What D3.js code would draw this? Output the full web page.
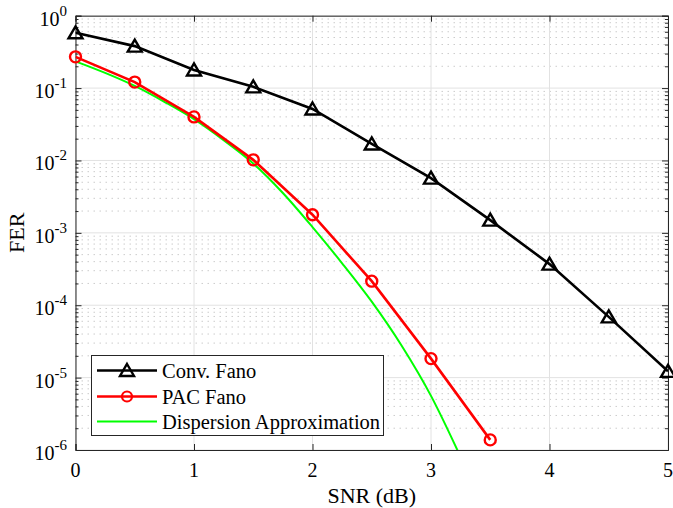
<!DOCTYPE html>
<html>
<head>
<meta charset="utf-8">
<script src="https://cdn.jsdelivr.net/npm/d3@7"></script>
<style>
  html, body { margin: 0; padding: 0; background: #fff; }
  svg { display: block; }
  text { font-family: "Liberation Serif", "Times New Roman", serif; fill: #000; }
</style>
</head>
<body>
<svg id="chart" width="673" height="508"></svg>
<script>
// ---------- data ----------
const snrConv = [0, 0.5, 1, 1.5, 2, 2.5, 3, 3.5, 4, 4.5, 5];
const ferConv = [0.58, 0.38, 0.178, 0.104, 0.0514, 0.0169, 0.0057, 0.00150, 3.7e-4, 6.9e-5, 1.22e-5];

const snrPac = [0, 0.5, 1, 1.5, 2, 2.5, 3, 3.5];
const ferPac = [0.27, 0.121, 0.040, 0.0102, 0.00178, 2.15e-4, 1.83e-5, 1.38e-6];

const snrDisp = [0, 0.25, 0.5, 0.75, 1, 1.25, 1.5, 1.75, 2, 2.25, 2.5, 2.75, 3, 3.25];
const ferDisp = [0.234, 0.162, 0.107, 0.0646, 0.0372, 0.0191, 0.0091, 0.00355, 0.0012, 3.8e-4, 1.12e-4, 2.8e-5, 5.6e-6, 8.0e-7];

const xTicks = [0, 1, 2, 3, 4, 5];
const yExponents = [0, -1, -2, -3, -4, -5, -6];
const legendLabels = ["Conv. Fano", "PAC Fano", "Dispersion Approximation"];

// ---------- layout ----------
const svg = d3.select("#chart");
const L = 75.5, R = 668, T = 15.7, B = 450;
const x = d3.scaleLinear().domain([0, 5]).range([L, R]);
const y = d3.scaleLog().domain([1e-6, 1]).range([B, T]);

const axisColor = "#262626";

// clip
svg.append("defs").append("clipPath").attr("id", "clip")
  .append("rect").attr("x", L).attr("y", T).attr("width", R - L).attr("height", B - T);

// minor grid (y)
const minorVals = [];
yExponents.slice(0, -1).forEach(e => {
  for (let m = 2; m <= 9; m++) minorVals.push(m * Math.pow(10, e - 1));
});
const grid = svg.append("g");
grid.selectAll("line.minor").data(minorVals).join("line")
  .attr("class", "minor")
  .attr("x1", L).attr("x2", R)
  .attr("y1", d => y(d)).attr("y2", d => y(d))
  .attr("stroke", "#cccccc").attr("stroke-width", 1)
  .attr("stroke-dasharray", "1.5,4.5");

// major grid
grid.selectAll("line.hmaj").data(yExponents.map(e => Math.pow(10, e))).join("line")
  .attr("class", "hmaj")
  .attr("x1", L).attr("x2", R)
  .attr("y1", d => y(d)).attr("y2", d => y(d))
  .attr("stroke", "#e2e2e2").attr("stroke-width", 1);
grid.selectAll("line.vmaj").data(xTicks).join("line")
  .attr("class", "vmaj")
  .attr("y1", T).attr("y2", B)
  .attr("x1", d => x(d)).attr("x2", d => x(d))
  .attr("stroke", "#e2e2e2").attr("stroke-width", 1);

// axes via d3 axis (ticks inward)
const yMajorVals = yExponents.map(e => Math.pow(10, e));
const axB = svg.append("g").attr("transform", `translate(0,${B})`)
  .call(d3.axisBottom(x).tickValues(xTicks).tickSize(-6).tickFormat(""));
const axT = svg.append("g").attr("transform", `translate(0,${T})`)
  .call(d3.axisTop(x).tickValues(xTicks).tickSize(-6).tickFormat(""));
const axL = svg.append("g").attr("transform", `translate(${L},0)`)
  .call(d3.axisLeft(y).tickValues(yMajorVals).tickSize(-6).tickFormat(""));
const axR = svg.append("g").attr("transform", `translate(${R},0)`)
  .call(d3.axisRight(y).tickValues(yMajorVals).tickSize(-6).tickFormat(""));
const axLm = svg.append("g").attr("transform", `translate(${L},0)`)
  .call(d3.axisLeft(y).tickValues(minorVals).tickSize(-3).tickFormat(""));
const axRm = svg.append("g").attr("transform", `translate(${R},0)`)
  .call(d3.axisRight(y).tickValues(minorVals).tickSize(-3).tickFormat(""));
[axB, axT, axL, axR, axLm, axRm].forEach(g => {
  g.selectAll("path").attr("stroke", axisColor).attr("stroke-width", 1);
  g.selectAll("line").attr("stroke", axisColor).attr("stroke-width", 1);
});
axLm.select("path").remove();
axRm.select("path").remove();

// x tick labels
svg.append("g").selectAll("text").data(xTicks).join("text")
  .attr("x", d => x(d)).attr("y", B + 27)
  .attr("text-anchor", "middle").attr("font-size", 20)
  .text(d => d);

// y tick labels 10^e
const yl = svg.append("g");
yExponents.forEach(e => {
  const t = yl.append("text")
    .attr("x", 67).attr("y", y(Math.pow(10, e)) + 10)
    .attr("text-anchor", "end").attr("font-size", 20);
  t.append("tspan").text("10");
  t.append("tspan").attr("font-size", 15).attr("dy", -10).text(String(e));
});

// axis labels
svg.append("text").attr("x", (L + R) / 2).attr("y", 503)
  .attr("text-anchor", "middle").attr("font-size", 22).text("SNR (dB)");
svg.append("text").attr("transform", `translate(24,${(T + B) / 2}) rotate(-90)`)
  .attr("text-anchor", "middle").attr("font-size", 22).text("FER");

// series
const plot = svg.append("g").attr("clip-path", "url(#clip)");
const line = d3.line().x(d => x(d[0])).y(d => y(d[1]));
const dispData = d3.zip(snrDisp, ferDisp);
const convData = d3.zip(snrConv, ferConv);
const pacData = d3.zip(snrPac, ferPac);

plot.append("path").datum(dispData)
  .attr("d", d3.line().x(d => x(d[0])).y(d => y(d[1])).curve(d3.curveMonotoneX))
  .attr("fill", "none").attr("stroke", "#00ff00").attr("stroke-width", 2);

plot.append("path").datum(pacData).attr("d", line)
  .attr("fill", "none").attr("stroke", "#ff0000").attr("stroke-width", 2.6);
plot.append("path").datum(convData).attr("d", line)
  .attr("fill", "none").attr("stroke", "#000").attr("stroke-width", 2.6);

const markers = svg.append("g");
markers.selectAll("path.tri").data(convData).join("path")
  .attr("class", "tri")
  .attr("transform", d => `translate(${x(d[0])},${y(d[1])})`)
  .attr("d", "M0,-6.5 L7,5.5 L-7,5.5 Z")
  .attr("fill", "none").attr("stroke", "#000").attr("stroke-width", 2.4)
  .attr("stroke-linejoin", "miter");
markers.selectAll("circle").data(pacData).join("circle")
  .attr("cx", d => x(d[0])).attr("cy", d => y(d[1])).attr("r", 5.5)
  .attr("fill", "none").attr("stroke", "#ff0000").attr("stroke-width", 2.4);

// legend
const lg = svg.append("g");
lg.append("rect").attr("x", 91.5).attr("y", 355.5).attr("width", 292).attr("height", 80)
  .attr("fill", "#fff").attr("stroke", axisColor).attr("stroke-width", 1);
const rowsY = [370.5, 396.5, 421.5];
const colors = ["#000", "#ff0000", "#00ff00"];
legendLabels.forEach((lab, i) => {
  lg.append("line").attr("x1", 97).attr("x2", 157).attr("y1", rowsY[i]).attr("y2", rowsY[i])
    .attr("stroke", colors[i]).attr("stroke-width", i === 2 ? 2 : 2.6);
  if (i === 0) {
    lg.append("path").attr("transform", `translate(127,${rowsY[i]})`)
      .attr("d", "M0,-6.5 L7,5.5 L-7,5.5 Z")
      .attr("fill", "none").attr("stroke", "#000").attr("stroke-width", 2.4);
  } else if (i === 1) {
    lg.append("circle").attr("cx", 127).attr("cy", rowsY[i]).attr("r", 5)
      .attr("fill", "none").attr("stroke", "#ff0000").attr("stroke-width", 2.2);
  }
  lg.append("text").attr("x", 162).attr("y", rowsY[i] + 7).attr("font-size", 20.5).text(lab);
});
</script>
</body>
</html>
